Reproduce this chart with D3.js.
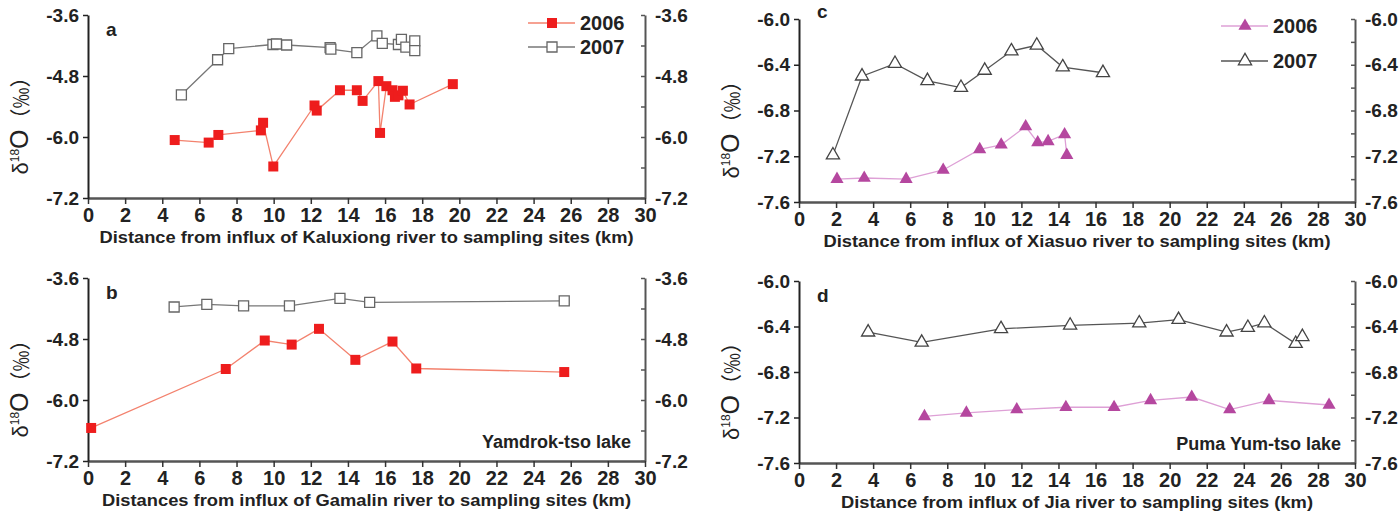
<!DOCTYPE html>
<html>
<head>
<meta charset="utf-8">
<script src="https://cdn.jsdelivr.net/npm/d3@7"></script>
<style>
	html, body { margin: 0; padding: 0; background: #fff; }
	svg { display: block; }
</style>
</head>
<body>
<div id="chart"></div>
<script>
// distances (km) and d18O (permil)
const kmA2006 = [4.67, 6.5, 7.02, 9.31, 9.43, 9.98, 12.2, 12.32, 13.57, 14.48, 14.79, 15.64, 15.73, 16.07, 16.4, 16.53, 16.72, 16.96, 17.32, 19.65];
const d18A2006 = [-6.06, -6.11, -5.96, -5.87, -5.72, -6.58, -5.38, -5.48, -5.08, -5.08, -5.29, -4.90, -5.92, -5.00, -5.08, -5.21, -5.18, -5.09, -5.36, -4.96];
const kmA2007 = [5.03, 6.98, 7.58, 9.96, 10.15, 10.7, 13.04, 13.08, 14.48, 15.56, 15.85, 16.72, 16.88, 17.12, 17.6, 17.6];
const d18A2007 = [-5.17, -4.48, -4.26, -4.18, -4.17, -4.19, -4.24, -4.27, -4.34, -4.01, -4.16, -4.18, -4.08, -4.23, -4.11, -4.30];

const kmB2006 = [0.17, 7.42, 9.52, 10.97, 12.44, 14.4, 16.4, 17.68, 25.65];
const d18B2006 = [-6.55, -5.39, -4.83, -4.91, -4.6, -5.21, -4.85, -5.38, -5.45];
const kmB2007 = [4.64, 6.4, 8.38, 10.85, 13.57, 15.17, 25.65];
const d18B2007 = [-4.17, -4.12, -4.15, -4.15, -4.0, -4.08, -4.05];

const kmC2006 = [2.05, 3.52, 5.78, 7.78, 9.75, 10.91, 12.23, 12.88, 13.44, 14.33, 14.45];
const d18C2006 = [-7.40, -7.39, -7.40, -7.32, -7.14, -7.10, -6.94, -7.08, -7.07, -7.01, -7.19];
const kmC2007 = [1.83, 3.4, 5.18, 6.93, 8.74, 10.02, 11.46, 12.83, 14.23, 16.4];
const d18C2007 = [-7.19, -6.50, -6.39, -6.54, -6.60, -6.45, -6.28, -6.23, -6.42, -6.47];

const kmD2006 = [6.77, 9.03, 11.75, 14.4, 17.0, 18.97, 21.19, 23.24, 25.36, 28.6];
const d18D2006 = [-7.19, -7.16, -7.13, -7.11, -7.11, -7.05, -7.02, -7.13, -7.05, -7.09];
const kmD2007 = [3.73, 6.62, 10.9, 14.63, 18.36, 20.48, 23.07, 24.22, 25.11, 26.8, 27.16];
const d18D2007 = [-6.45, -6.54, -6.42, -6.39, -6.37, -6.34, -6.45, -6.41, -6.37, -6.55, -6.49];

const years = ["2006", "2007"];
const xTicks = [0, 2, 4, 6, 8, 10, 12, 14, 16, 18, 20, 22, 24, 26, 28, 30];
const yTicksAB = [-3.6, -4.8, -6.0, -7.2];
const yMinorAB = [-3.6, -4.2, -4.8, -5.4, -6.0, -6.6, -7.2];
const yTicksCD = [-6.0, -6.4, -6.8, -7.2, -7.6];
const yMinorCD = [-6.0, -6.2, -6.4, -6.6, -6.8, -7.0, -7.2, -7.4, -7.6];

const titleA = "Distance from influx of Kaluxiong river to sampling sites (km)";
const titleB = "Distances from influx of Gamalin river to sampling sites (km)";
const titleC = "Distance from influx of Xiasuo river to sampling sites (km)";
const titleD = "Distance from influx of Jia river to sampling sites (km)";

const FONT = "'Liberation Sans', Arial, Helvetica, sans-serif";

const svg = d3.select("#chart")
	.append("svg")
		.attr("width", 1400)
		.attr("height", 515)
		.style("font-family", FONT);

const panels = [
	{letter: "a", left: 88, right: 645, top: 15, bottom: 198, yDomain: [-7.2, -3.6],
		yMajor: yTicksAB, yMinor: yMinorAB, shape: d3.symbolSquare, size: 100,
		c2006: "#ee1d1d", l2006: "#f3826e", c2007: "#666", l2007: "#777",
		s2006: [kmA2006, d18A2006], s2007: [kmA2007, d18A2007],
		title: titleA, titleW: 534, legend: {x: 528, y: 23}, lake: null},
	{letter: "b", left: 88, right: 645, top: 278, bottom: 461, yDomain: [-7.2, -3.6],
		yMajor: yTicksAB, yMinor: yMinorAB, shape: d3.symbolSquare, size: 100,
		c2006: "#ee1d1d", l2006: "#f3826e", c2007: "#666", l2007: "#777",
		s2006: [kmB2006, d18B2006], s2007: [kmB2007, d18B2007],
		title: titleB, titleW: 529, legend: null, lake: "Yamdrok-tso lake"},
	{letter: "c", left: 799, right: 1355, top: 19, bottom: 202, yDomain: [-7.6, -6.0],
		yMajor: yTicksCD, yMinor: yMinorCD, shape: d3.symbolTriangle, size: 75,
		c2006: "#b5479f", l2006: "#dea0d6", c2007: "#444", l2007: "#555",
		s2006: [kmC2006, d18C2006], s2007: [kmC2007, d18C2007],
		title: titleC, titleW: 507, legend: {x: 1221, y: 26}, lake: null},
	{letter: "d", left: 799, right: 1355, top: 281, bottom: 463, yDomain: [-7.6, -6.0],
		yMajor: yTicksCD, yMinor: yMinorCD, shape: d3.symbolTriangle, size: 75,
		c2006: "#b5479f", l2006: "#dea0d6", c2007: "#444", l2007: "#555",
		s2006: [kmD2006, d18D2006], s2007: [kmD2007, d18D2007],
		title: titleD, titleW: 472, legend: null, lake: "Puma Yum-tso lake"}
];

panels.forEach(drawPanel);

function drawPanel(p){
	const g = svg.append("g").attr("class", "panel-" + p.letter);

	const x = d3.scaleLinear().domain([0, 30]).range([p.left, p.right]);
	const y = d3.scaleLinear().domain(p.yDomain).range([p.bottom, p.top]);
	const fmt = (d) => d.toFixed(1);

	// right axis: minor ticks pointing in, labels outside
	const rAxis = g.append("g")
		.attr("transform", `translate(${p.right},0)`)
		.call(d3.axisRight(y).tickValues(p.yMinor).tickSize(-4).tickSizeOuter(0)
			.tickFormat((d) => p.yMajor.some((m) => Math.abs(m - d) < 1e-6) ? fmt(d) : ""));
	rAxis.select(".domain").attr("stroke", "#555").attr("stroke-width", 2);
	rAxis.selectAll(".tick line").attr("stroke", "#555").attr("stroke-width", 1.5);
	rAxis.selectAll(".tick text")
		.attr("x", 10)
		.attr("fill", "#222")
		.style("font-size", "19px")
		.style("font-weight", "bold");

	// bottom axis
	const xAxis = g.append("g")
		.attr("transform", `translate(0,${p.bottom})`)
		.call(d3.axisBottom(x).tickValues(xTicks).tickSize(6).tickSizeOuter(0).tickFormat(d3.format("d")));
	xAxis.select(".domain").attr("stroke", "#555").attr("stroke-width", 2.5);
	xAxis.selectAll(".tick line").attr("stroke", "#333").attr("stroke-width", 1.5);
	xAxis.selectAll(".tick text")
		.attr("y", 10)
		.attr("fill", "#222")
		.style("font-size", "20px")
		.style("font-weight", "bold");

	// left axis
	const lAxis = g.append("g")
		.attr("transform", `translate(${p.left},0)`)
		.call(d3.axisLeft(y).tickValues(p.yMajor).tickSize(5).tickSizeOuter(0).tickFormat(fmt));
	lAxis.select(".domain").attr("stroke", "#222").attr("stroke-width", 2);
	lAxis.selectAll(".tick line").attr("stroke", "#222").attr("stroke-width", 1.5);
	lAxis.selectAll(".tick text")
		.attr("x", -9)
		.attr("fill", "#222")
		.style("font-size", "19px")
		.style("font-weight", "bold");

	// axis title
	g.append("text")
		.attr("x", (p.left + p.right) / 2)
		.attr("y", p.bottom + 45)
		.attr("text-anchor", "middle")
		.attr("fill", "#222")
		.attr("textLength", p.titleW)
		.attr("lengthAdjust", "spacingAndGlyphs")
		.style("font-size", "17px")
		.style("font-weight", "bold")
		.text(p.title);

	// y label
	const cy = (p.top + p.bottom) / 2 + 14;
	const yl = g.append("text")
		.attr("transform", `translate(${p.left - 60},${cy}) rotate(-90)`)
		.attr("text-anchor", "middle")
		.attr("fill", "#222");
	yl.append("tspan").style("font-size", "22px").text("δ");
	yl.append("tspan").style("font-size", "12px").attr("dy", -9).text("18");
	yl.append("tspan").style("font-size", "25px").attr("dy", 9).text("O");
	yl.append("tspan")
		.style("font-size", "21px")
		.style("font-family", "'Noto Sans CJK SC', sans-serif")
		.text("（‰）");

	// panel letter
	g.append("text")
		.attr("x", p.left + 18)
		.attr("y", p.letter === "c" ? p.top - 1 : p.top + 21)
		.attr("fill", "#222")
		.style("font-size", "19px")
		.style("font-weight", "bold")
		.text(p.letter);

	if(p.lake){
		g.append("text")
			.attr("x", p.right - 14)
			.attr("y", p.bottom - 13)
			.attr("text-anchor", "end")
			.attr("fill", "#222")
			.style("font-size", "18px")
			.style("font-weight", "bold")
			.text(p.lake);
	}

	const series = [
		{year: years[0], km: p.s2006[0], v: p.s2006[1], line: p.l2006, mark: p.c2006, fill: p.c2006},
		{year: years[1], km: p.s2007[0], v: p.s2007[1], line: p.l2007, mark: p.c2007, fill: "#fff"}
	];

	const lineGen = d3.line()
		.x((d) => x(d[0]))
		.y((d) => y(d[1]));
	const sym = d3.symbol().type(p.shape).size(p.size);

	series.forEach(function(s){
		const pts = s.km.map((k, i) => [k, s.v[i]]);
		g.append("path")
			.attr("d", lineGen(pts))
			.attr("fill", "none")
			.attr("stroke", s.line)
			.attr("stroke-width", 1.3);
	});
	series.forEach(function(s){
		const pts = s.km.map((k, i) => [k, s.v[i]]);
		g.append("g")
			.selectAll("path")
			.data(pts)
			.join("path")
				.attr("transform", (d) => `translate(${x(d[0])},${y(d[1])})`)
				.attr("d", sym)
				.attr("fill", s.fill)
				.attr("stroke", s.mark)
				.attr("stroke-width", s.fill === "#fff" ? 1.3 : 0);
	});

	// legend
	if(p.legend){
		series.forEach(function(s, i){
			const ly = p.legend.y + i * (p.letter === "a" ? 24 : 35);
			const lg = g.append("g").attr("transform", `translate(${p.legend.x},${ly})`);
			lg.append("line")
				.attr("x1", 0).attr("x2", 47)
				.attr("stroke", s.line)
				.attr("stroke-width", 1.3);
			lg.append("path")
				.attr("transform", "translate(24,0)")
				.attr("d", sym)
				.attr("fill", s.fill)
				.attr("stroke", s.mark)
				.attr("stroke-width", s.fill === "#fff" ? 1.3 : 0);
			lg.append("text")
				.attr("x", 52)
				.attr("dy", "0.35em")
				.attr("fill", "#222")
				.style("font-size", "20px")
				.style("font-weight", "bold")
				.text(s.year);
		});
	}
}
</script>
</body>
</html>
